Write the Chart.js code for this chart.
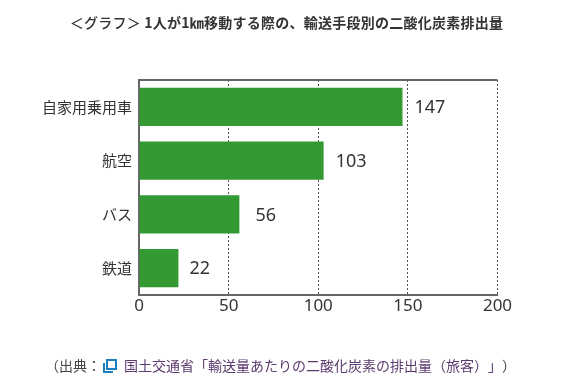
<!DOCTYPE html>
<html lang="ja">
<head>
<meta charset="utf-8">
<script src="https://cdn.jsdelivr.net/npm/chart.js@4"></script>
<style>
html,body{margin:0;padding:0;background:#fff;width:579px;height:381px;overflow:hidden}
#wrap{position:absolute;left:0;top:0;width:579px;height:381px}
#title{position:absolute;left:0;top:12px;width:573px;text-align:center;font:bold 14px/20px "Noto Sans CJK JP";letter-spacing:.25px;color:#333;white-space:nowrap;text-spacing-trim:space-all}
#src{position:absolute;left:45px;top:355px;font:14px/20px "Noto Sans CJK JP";color:#444;white-space:nowrap;text-spacing-trim:space-all}
#src a{color:#5b3a6e;text-decoration:none}
#src svg{vertical-align:-2px;margin:0 7px 0 2px}
</style>
</head>
<body>
<div id="wrap"><canvas id="c" width="579" height="381"></canvas></div>
<div id="title"><span style="font-weight:500">＜グラフ＞</span> 1人が1㎞移動する際の、輸送手段別の二酸化炭素排出量</div>
<div id="src">（出典：<svg width="14" height="14" viewBox="0 0 14 14"><rect x="4" y="1" width="9" height="9" fill="#fff" stroke="#1a7fc1" stroke-width="2"/><path d="M1 4v9h9" fill="none" stroke="#1a7fc1" stroke-width="2"/></svg><a>国土交通省「輸送量あたりの二酸化炭素の排出量（旅客）」</a>）</div>
<script>
const categories = ["自家用乗用車", "航空", "バス", "鉄道"];
const values = [147, 103, 56, 22];
const xTicks = [0, 50, 100, 150, 200];

const extras = {
  id: "extras",
  afterDatasetsDraw(chart) {
    const { ctx, chartArea: a, scales: { x, y } } = chart;
    const gaps = [12, 12, 16, 11];
    ctx.save();
    ctx.strokeStyle = "#666";
    ctx.lineWidth = 2;
    ctx.beginPath();
    ctx.moveTo(a.left - 1, a.top);
    ctx.lineTo(a.right, a.top);
    ctx.stroke();
    ctx.fillStyle = "#333";
    ctx.font = '18px "Noto Sans"';
    ctx.textBaseline = "middle";
    values.forEach((v, i) => ctx.fillText(String(v), x.getPixelForValue(v) + gaps[i], y.getPixelForValue(i) + 1));
    ctx.restore();
  }
};

new Chart(document.getElementById("c"), {
  type: "bar",
  data: {
    labels: categories,
    datasets: [{ data: values, backgroundColor: "#339933", borderWidth: 0, categoryPercentage: 0.71, barPercentage: 1 }]
  },
  options: {
    indexAxis: "y",
    responsive: false,
    animation: false,
    layout: { padding: { top: 80, right: 81.5, left: 0, bottom: 0 } },
    plugins: { legend: { display: false }, tooltip: { enabled: false } },
    scales: {
      x: {
        type: "linear",
        min: xTicks[0],
        max: xTicks[xTicks.length - 1],
        afterFit(s) { s.height = 86; },
        afterBuildTicks(s) { s.ticks = xTicks.map(v => ({ value: v })); },
        grid: { display: true, color: "#555", lineWidth: 1, drawTicks: false },
        border: { display: true, color: "#666", width: 2, dash: [2, 2] },
        ticks: { color: "#333", font: { family: '"Noto Sans"', size: 17 }, padding: 1, maxRotation: 0 }
      },
      y: {
        afterFit(s) { s.width = 139; },
        grid: { display: false, drawTicks: false },
        border: { display: true, color: "#666", width: 2 },
        ticks: { color: "#333", font: { family: '"Noto Sans CJK JP"', size: 15 }, padding: 7 }
      }
    }
  },
  plugins: [extras]
});
</script>
</body>
</html>
